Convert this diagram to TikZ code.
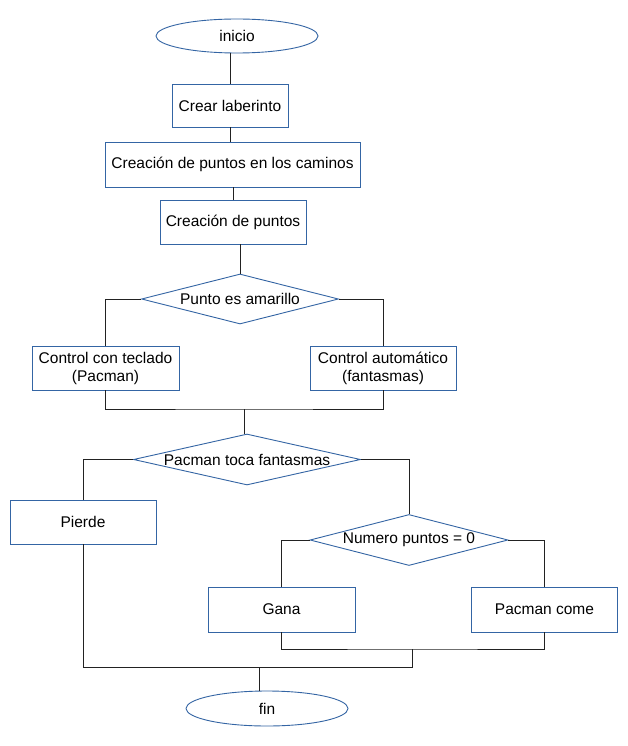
\documentclass[tikz,border=0pt]{standalone}
\usepackage{fontspec}
\setmainfont{Liberation Sans}
\usetikzlibrary{shapes.geometric}
\definecolor{shapeblue}{HTML}{3465A4}
\definecolor{lineblk}{HTML}{222222}
\tikzset{
  x=1pt, y=-1pt,
  base/.style={draw=shapeblue, line width=0.9pt, fill=white, inner sep=0pt, text=black,
    font=\fontsize{15.5}{18}\selectfont, align=center},
  procbox/.style={base, rectangle},
  termin/.style={base, ellipse},
  decis/.style={base, diamond},
  conn/.style={draw=lineblk, line width=0.9pt},
}
\begin{document}
\begin{tikzpicture}
\useasboundingbox[fill=white] (0,0) rectangle (628,746);
\node[termin, minimum width=162pt, minimum height=34pt] (inicio) at (237,36) {inicio};
\node[procbox, minimum width=116pt, minimum height=43pt] (lab) at (230,105.5) {Crear laberinto};
\node[procbox, minimum width=255pt, minimum height=45pt] (cam) at (232.5,164.5) {Creación de puntos en los caminos};
\node[procbox, minimum width=146pt, minimum height=44pt] (pts) at (233,222) {Creación de puntos};
\node[decis, minimum width=197pt, minimum height=50pt] (d1) at (240,299) {\makebox[0pt]{Punto es amarillo}};
\node[procbox, minimum width=147pt, minimum height=44pt] (ctec) at (105.5,368) {Control con teclado\\(Pacman)};
\node[procbox, minimum width=146pt, minimum height=44pt] (caut) at (383,368) {Control automático\\(fantasmas)};
\node[decis, minimum width=227pt, minimum height=51pt] (d2) at (247,459.5) {\makebox[0pt]{Pacman toca fantasmas}};
\node[procbox, minimum width=146pt, minimum height=44pt] (pier) at (83,522) {Pierde};
\node[decis, minimum width=198pt, minimum height=51pt] (d3) at (409,540) {\makebox[0pt]{Numero puntos = 0}};
\node[procbox, minimum width=147pt, minimum height=45pt] (gana) at (281.5,609.5) {Gana};
\node[procbox, minimum width=146pt, minimum height=45pt] (pcome) at (544.5,609.5) {Pacman come};
\node[termin, minimum width=162pt, minimum height=35pt] (fin) at (267,708.5) {fin};
\coordinate (m1) at (244,409);
\coordinate (m2) at (412,649);
\coordinate (m3) at (259,667);
\draw[conn] (lab.north) -- (lab.north |- inicio.south);
\draw[conn] (lab.south) -- (lab.south |- cam.north);
\draw[conn] (pts.north) -- (pts.north |- cam.south);
\draw[conn] (d1.north) -- (d1.north |- pts.south);
\draw[conn] (d1.west) -| (ctec.north);
\draw[conn] (d1.east) -| (caut.north);
\draw[conn] (ctec.south) |- (m1) -| (caut.south);
\draw[conn] (m1) -- (m1 |- d2.north);
\draw[conn] (d2.west) -| (pier.north);
\draw[conn] (d2.east) -| (d3.north);
\draw[conn] (d3.west) -| (gana.north);
\draw[conn] (d3.east) -| (pcome.north);
\draw[conn] (gana.south) |- (m2) -| (pcome.south);
\draw[conn] (pier.south) |- (m2 |- m3) -- (m2);
\draw[conn] (m3) -- (m3 |- fin.north);
\end{tikzpicture}
\end{document}
